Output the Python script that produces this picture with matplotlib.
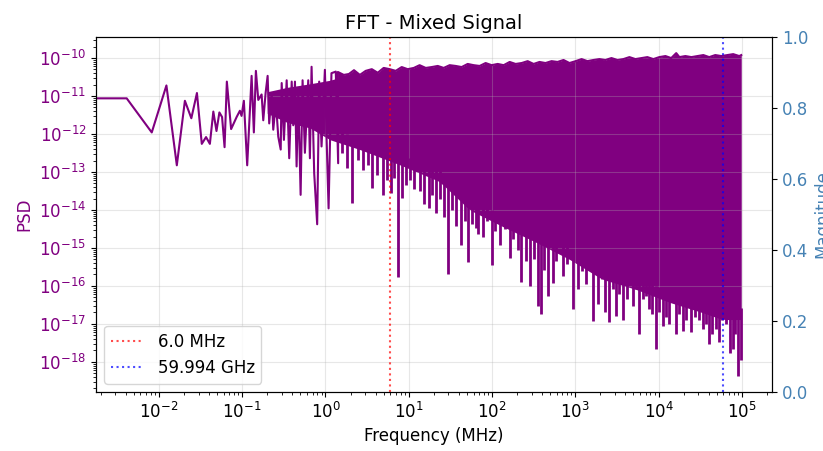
import numpy as np
import matplotlib
matplotlib.use('Agg')
from matplotlib import pyplot as plt

# low frequency bins (MHz) and PSD
lf_f = [0.0, 0.0041, 0.0082, 0.0123, 0.0164, 0.0205, 0.0245, 0.0286, 0.0327, 0.0368,
        0.0409, 0.045, 0.0491, 0.0532, 0.0573, 0.0614, 0.0654, 0.0736, 0.0857, 0.0938,
        0.0982, 0.1047, 0.1148, 0.1297, 0.138, 0.146]
lf_psd = [8.7e-12, 8.7e-12, 1.1e-12, 1.9e-11, 1.5e-13, 7.5e-12, 2.6e-12, 1.2e-11, 5.5e-13, 8.3e-13,
          5.5e-13, 3.9e-12, 1.2e-12, 3.7e-12, 2.8e-12, 4.5e-13, 2.4e-11, 1.35e-12, 2.8e-12, 4.1e-12,
          3e-12, 7.5e-12, 1.5e-13, 3.4e-11, 1.1e-12, 4.6e-11]

# 0.15 - 1.5 MHz, still readable point by point
mid_f = [0.156, 0.171, 0.179, 0.191, 0.202, 0.211, 0.226, 0.236, 0.254, 0.271,
         0.290, 0.298, 0.317, 0.342, 0.367, 0.393, 0.410, 0.430, 0.450, 0.471,
         0.503, 0.531, 0.566, 0.621, 0.650, 0.681, 0.732, 0.795, 0.840, 0.897,
         0.984, 1.03, 1.09, 1.18, 1.33, 1.42]
mid_psd = [7.9e-12, 1.1e-11, 2.3e-12, 1.2e-11, 3.4e-11, 1.9e-12, 1.2e-11, 1.3e-12, 7e-12, 8.5e-13,
           3.9e-13, 2.2e-11, 7e-13, 2.6e-11, 2.3e-13, 2.4e-11, 1.7e-12, 2.4e-11, 1.4e-13, 1.2e-11,
           2.5e-14, 2.6e-11, 3.2e-13, 2.6e-11, 2.3e-13, 5.9e-11, 9.3e-14, 4.2e-15, 2.4e-11, 4.7e-13,
           4.9e-11, 8.5e-13, 1.1e-14, 4e-11, 4.4e-11, 1.7e-13]
early_f = [0.2, 0.35, 0.65, 1.13, 1.42]
early_top = [1.3e-11, 1.7e-11, 2.1e-11, 2.6e-11, 3e-11]
early_low = [3.5e-12, 2e-12, 1.45e-12, 7.1e-13, 6e-13]

# upper edge of the dense part
top_f = [1.41, 1.66, 1.91, 2.2, 2.59, 3.04, 3.6, 4.24, 5.0, 5.92,
         6.98, 8.23, 9.72, 11.5, 13.5, 16, 18.9, 22.3, 26.3, 31,
         36.6, 43.2, 51, 60.2, 71, 83.8, 98.9, 117, 138, 163,
         192, 227, 268, 316, 372, 439, 519, 612, 722, 852,
         1010, 1190, 1400, 1650, 1950, 2300, 2720, 3210, 3780, 4470,
         5270, 6220, 7340, 8660, 10200, 12100, 14200, 16300, 17800, 21000,
         24800, 29300, 34500, 40600, 48000, 56700, 66800, 78800, 93100, 98400]
top_psd = [4.3e-11, 3.6e-11, 3.8e-11, 4.8e-11, 3.6e-11, 4.6e-11, 5.1e-11, 4.1e-11, 5.5e-11, 5.1e-11,
           4.6e-11, 5.8e-11, 5.1e-11, 5.5e-11, 6.5e-11, 5.5e-11, 5.8e-11, 6.2e-11, 5.5e-11, 6.5e-11,
           6.2e-11, 5.8e-11, 7e-11, 6.5e-11, 6.2e-11, 7.4e-11, 6.5e-11, 7e-11, 6.5e-11, 7.9e-11,
           7e-11, 7.4e-11, 8.3e-11, 7e-11, 7.9e-11, 7.4e-11, 8.3e-11, 7.9e-11, 8.9e-11, 7.4e-11,
           8.3e-11, 9.4e-11, 8.3e-11, 8.9e-11, 9.4e-11, 8.9e-11, 1e-10, 8.9e-11, 9.4e-11, 1.06e-10,
           9.4e-11, 1e-10, 1.06e-10, 9.4e-11, 1.06e-10, 1.13e-10, 1e-10, 1.35e-10, 1.06e-10, 1.13e-10,
           1.06e-10, 1.13e-10, 1.2e-10, 1.06e-10, 1.2e-10, 1.13e-10, 1.2e-10, 1.27e-10, 1.13e-10, 1.2e-10]

# lower edge of the solid body
floor_f = [1.13, 2.59, 7.8, 23.5, 53.9, 133, 340, 852, 2100, 5370, 13500, 33300, 58500, 98400]
floor_psd = [7.1e-13, 3.9e-13, 1.55e-13, 5.6e-14, 1.0e-14, 3.7e-15, 1.4e-15, 5e-16, 1.5e-16, 8.1e-17,
             3.7e-17, 2e-17, 1.3e-17, 1.3e-17]

# downward spikes
spike_f = [1.56, 1.79, 2.09, 2.47, 2.81, 3.22, 3.67, 4.14, 4.92, 5.45,
           6.09, 6.6, 7.44, 8.4, 9.2, 10.3, 11.5, 13.5, 15.2, 17.4,
           19.1, 21.4, 23.5, 26.3, 29.6, 32.9, 37.2, 42.9, 46.9, 51.4,
           57.0, 65.1, 68, 77.7, 86.2, 100.4, 110, 123, 142, 163,
           181, 203, 225, 253, 282, 316, 355, 388, 425, 466,
           535, 592, 703, 803, 929, 1070, 1190, 1330, 1480, 1620,
           1870, 2070, 2250, 2570, 2800, 3080, 3390, 3690, 4200, 4870,
           5370, 5890, 6440, 7080, 7760, 8430, 9300, 10200, 11200, 12400,
           13500, 16300, 17800, 19500, 21500, 24600, 27700, 30800, 34400, 37500,
           40600, 44300, 49100, 53600, 58500, 64500, 72000, 77700, 83300, 89600, 97800]
spike_psd = [3.2e-13, 1.3e-13, 1.5e-14, 2.1e-13, 1.15e-13, 1.5e-13, 3.9e-14, 8.5e-14, 2.5e-14, 6.3e-14,
             2.8e-14, 7e-14, 1.7e-16, 2.1e-14, 4.5e-14, 6.3e-14, 3.5e-14, 3.1e-14, 1.4e-14, 1.1e-14,
             2.5e-14, 8.3e-15, 1.9e-14, 6.5e-15, 2.1e-16, 1.0e-14, 3.7e-15, 1.2e-15, 5e-15, 4.3e-16,
             4.2e-15, 3.4e-15, 2.4e-15, 1.9e-15, 5e-15, 3.5e-16, 2.8e-15, 1.2e-15, 3.1e-15, 5.5e-16,
             1.7e-15, 9e-16, 1.3e-16, 4.5e-16, 1e-16, 5e-16, 2.9e-17, 1.8e-17, 2.7e-16, 5.3e-17,
             1.2e-16, 4.5e-16, 1.8e-16, 3.7e-16, 2.4e-17, 8.1e-17, 2.4e-16, 1.1e-16, 2.7e-16, 1.2e-17,
             3.3e-17, 1.5e-16, 2e-17, 1.1e-17, 8.1e-17, 1.6e-17, 6e-17, 1.3e-17, 4.5e-17, 2.9e-17,
             8.1e-17, 5.4e-18, 4.5e-17, 5.3e-17, 2.4e-17, 1.8e-17, 2.2e-18, 2.1e-17, 8.8e-18, 1.5e-17,
             1e-17, 5.4e-18, 1.8e-17, 6.5e-18, 1.3e-17, 6e-18, 1.5e-17, 1.3e-17, 7.2e-18, 1e-17,
             3e-18, 5.4e-18, 7.2e-18, 3.3e-18, 1.3e-17, 1e-17, 1.7e-18, 2.2e-18, 5.4e-18, 4.3e-19, 1.1e-18]

marker_f = [6.0, 59994.0]
marker_labels = ['6.0 MHz', '59.994 GHz']

line_f = lf_f + mid_f + top_f
line_psd = lf_psd + mid_psd + top_psd


def floor_at(f):
	return 10 ** np.interp(np.log10(f), np.log10(floor_f), np.log10(floor_psd))


fig, ax1 = plt.subplots(figsize=(8.23, 4.51), dpi=100)
fig.subplots_adjust(left=0.1166, right=0.938, top=0.918, bottom=0.131)

ax1.fill_between(early_f, early_low, early_top, color='purple', lw=0)
ax1.fill_between(top_f, floor_at(top_f), top_psd, color='purple', lw=0)
ax1.vlines(spike_f, spike_psd, floor_at(spike_f) * 2, color='purple', lw=2)
ax1.plot(line_f, line_psd, color='purple', lw=1.5)

ax1.axvline(marker_f[0], color='red', linestyle=':', lw=1.5, alpha=0.7, label=marker_labels[0])
ax1.axvline(marker_f[1], color='blue', linestyle=':', lw=1.5, alpha=0.7, label=marker_labels[1])

ax1.set_xscale('log')
ax1.set_yscale('log')
ax1.set_title('FFT - Mixed Signal', fontsize=14)
ax1.set_xlabel('Frequency (MHz)', fontsize=12)
ax1.set_ylabel('PSD', color='purple', fontsize=12)
ax1.tick_params(axis='y', labelcolor='purple', labelsize=12)
ax1.tick_params(axis='x', labelsize=12)
ax1.grid(True, alpha=0.3)
ax1.legend(loc='lower left', fontsize=12)

ax2 = ax1.twinx()
ax2.set_ylabel('Magnitude', color='steelblue', fontsize=12)
ax2.tick_params(axis='y', labelcolor='steelblue', labelsize=12)

fig.savefig('out.png')
